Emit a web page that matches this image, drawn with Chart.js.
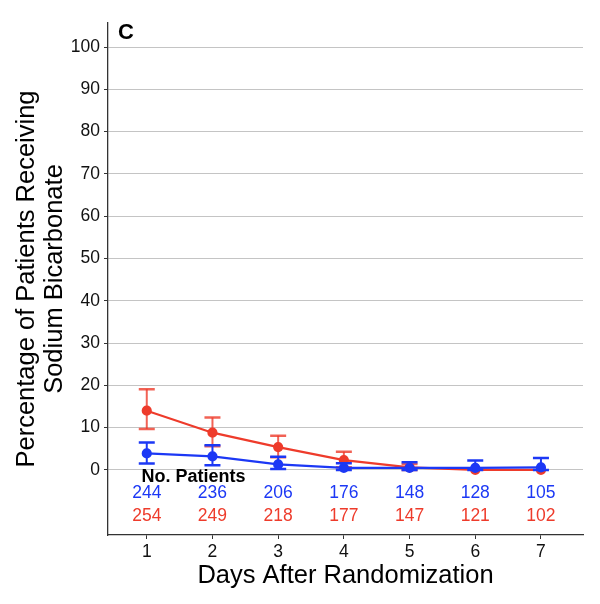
<!DOCTYPE html>
<html>
<head>
<meta charset="utf-8">
<script src="https://cdn.jsdelivr.net/npm/chart.js@4.4.1/dist/chart.umd.min.js"></script>
<style>
  html, body { margin: 0; padding: 0; background: #fff; }
  #wrap { width: 600px; height: 604px; }
</style>
</head>
<body>
<div id="wrap"><canvas id="sodiumChart"></canvas></div>
<script>
// Days after randomization
const days = [1, 2, 3, 4, 5, 6, 7];
const yTicks = [0, 10, 20, 30, 40, 50, 60, 70, 80, 90, 100];

// Blue group: percentage and 95% interval
const blueMean = [3.9, 3.2, 1.3, 0.5, 0.5, 0.5, 0.6];
const blueLow = [1.5, 1.1, 0.2, 0.0, 0.0, 0.0, 0.0];
const blueHigh = [6.5, 5.8, 3.1, 1.6, 1.8, 2.2, 2.8];
const blueCounts = [244, 236, 206, 176, 148, 128, 105];

// Red group: percentage and 95% interval
const redMean = [14.0, 8.8, 5.4, 2.3, 0.6, 0.0, 0.0];
const redLow = [9.7, 5.6, 3.0, 0.6, 0.0, 0.0, 0.0];
const redHigh = [19.1, 12.4, 8.1, 4.3, 1.4, 0.0, 0.0];
const redCounts = [254, 249, 218, 177, 147, 121, 102];

const BLUE = '#1c38f5';
const RED = '#ee3b2b';
const FONT = "'Liberation Sans', Arial, sans-serif";

// Draw error bars just before each dataset's line
const errorBars = {
    id: 'errorBars',
    beforeDatasetDraw(chart, args) {
        const ds = chart.data.datasets[args.index];
        if (!ds.errLow) return;
        const x = chart.scales.x, y = chart.scales.y;
        const ctx = chart.ctx;
        ctx.save();
        ctx.strokeStyle = ds.errColor;
        days.forEach((d, i) => {
            if (ds.errHigh[i] === ds.errLow[i]) return;
            const px = x.getPixelForValue(d);
            const top = y.getPixelForValue(ds.errHigh[i]);
            const bot = y.getPixelForValue(ds.errLow[i]);
            ctx.lineWidth = 2;
            ctx.beginPath();
            ctx.moveTo(px, top);
            ctx.lineTo(px, bot);
            ctx.stroke();
            ctx.lineWidth = 2.5;
            ctx.beginPath();
            ctx.moveTo(px - 8, top); ctx.lineTo(px + 8, top);
            ctx.moveTo(px - 8, bot); ctx.lineTo(px + 8, bot);
            ctx.stroke();
        });
        ctx.restore();
    }
};

// Panel letter and number-at-risk table
const annotations = {
    id: 'annotations',
    afterDraw(chart) {
        const x = chart.scales.x, y = chart.scales.y;
        const ctx = chart.ctx;
        ctx.save();
        ctx.textBaseline = 'middle';
        ctx.fillStyle = '#000';
        ctx.font = 'bold 22px ' + FONT;
        ctx.textAlign = 'left';
        ctx.fillText('C', chart.chartArea.left + 10, chart.chartArea.top + 10);

        ctx.font = 'bold 18px ' + FONT;
        ctx.fillText('No. Patients', x.getPixelForValue(0.92), y.getPixelForValue(-1.8));

        ctx.font = '17.5px ' + FONT;
        ctx.textAlign = 'center';
        days.forEach((d, i) => {
            const px = x.getPixelForValue(d);
            ctx.fillStyle = BLUE;
            ctx.fillText(String(blueCounts[i]), px, y.getPixelForValue(-5.6));
            ctx.fillStyle = RED;
            ctx.fillText(String(redCounts[i]), px, y.getPixelForValue(-11.0));
        });
        ctx.restore();
    }
};

const ctx = document.getElementById('sodiumChart').getContext('2d');
new Chart(ctx, {
    type: 'line',
    data: {
        datasets: [
            {
                label: 'Blue',
                data: days.map((d, i) => ({ x: d, y: blueMean[i] })),
                borderColor: BLUE,
                backgroundColor: BLUE,
                borderWidth: 2.2,
                pointRadius: 4,
                pointHoverRadius: 4,
                tension: 0,
                errLow: blueLow,
                errHigh: blueHigh,
                errColor: BLUE
            },
            {
                label: 'Red',
                data: days.map((d, i) => ({ x: d, y: redMean[i] })),
                borderColor: RED,
                backgroundColor: RED,
                borderWidth: 2.2,
                pointRadius: 4,
                pointHoverRadius: 4,
                tension: 0,
                errLow: redLow,
                errHigh: redHigh,
                errColor: 'rgba(238, 59, 43, 0.8)'
            }
        ]
    },
    options: {
        responsive: true,
        maintainAspectRatio: false,
        animation: false,
        layout: { padding: { top: 23, right: 17, left: 0, bottom: 0 } },
        plugins: {
            legend: { display: false },
            tooltip: { enabled: false }
        },
        scales: {
            x: {
                type: 'linear',
                min: 0.41,
                max: 7.64,
                afterBuildTicks: axis => { axis.ticks = days.map(v => ({ value: v })); },
                afterFit: axis => { axis.height = 69; },
                grid: { color: '#ffffff', lineWidth: 1, tickColor: '#333', tickLength: 4 },
                border: { display: true, color: '#333', width: 1.3 },
                ticks: { color: '#111', font: { family: FONT, size: 17.5 }, padding: 3 },
                title: {
                    display: true,
                    text: 'Days After Randomization',
                    color: '#000',
                    font: { family: FONT, size: 25.5, lineHeight: 1.1 },
                    padding: { top: 0, bottom: 14 }
                }
            },
            y: {
                min: -15.4,
                max: 105.7,
                afterBuildTicks: axis => { axis.ticks = yTicks.map(v => ({ value: v })); },
                afterFit: axis => { axis.width = 108; },
                grid: { color: '#c4c4c4', lineWidth: 1, tickColor: '#333', tickLength: 4, z: -1 },
                border: { display: true, color: '#333', width: 1.3 },
                ticks: { color: '#111', font: { family: FONT, size: 17.5 }, padding: 4 },
                title: {
                    display: true,
                    text: ['Percentage of Patients Receiving', 'Sodium Bicarbonate'],
                    color: '#000',
                    font: { family: FONT, size: 25.5, lineHeight: 1.1 },
                    padding: { top: 13, bottom: 0 }
                }
            }
        }
    },
    plugins: [errorBars, annotations]
});
</script>
</body>
</html>
